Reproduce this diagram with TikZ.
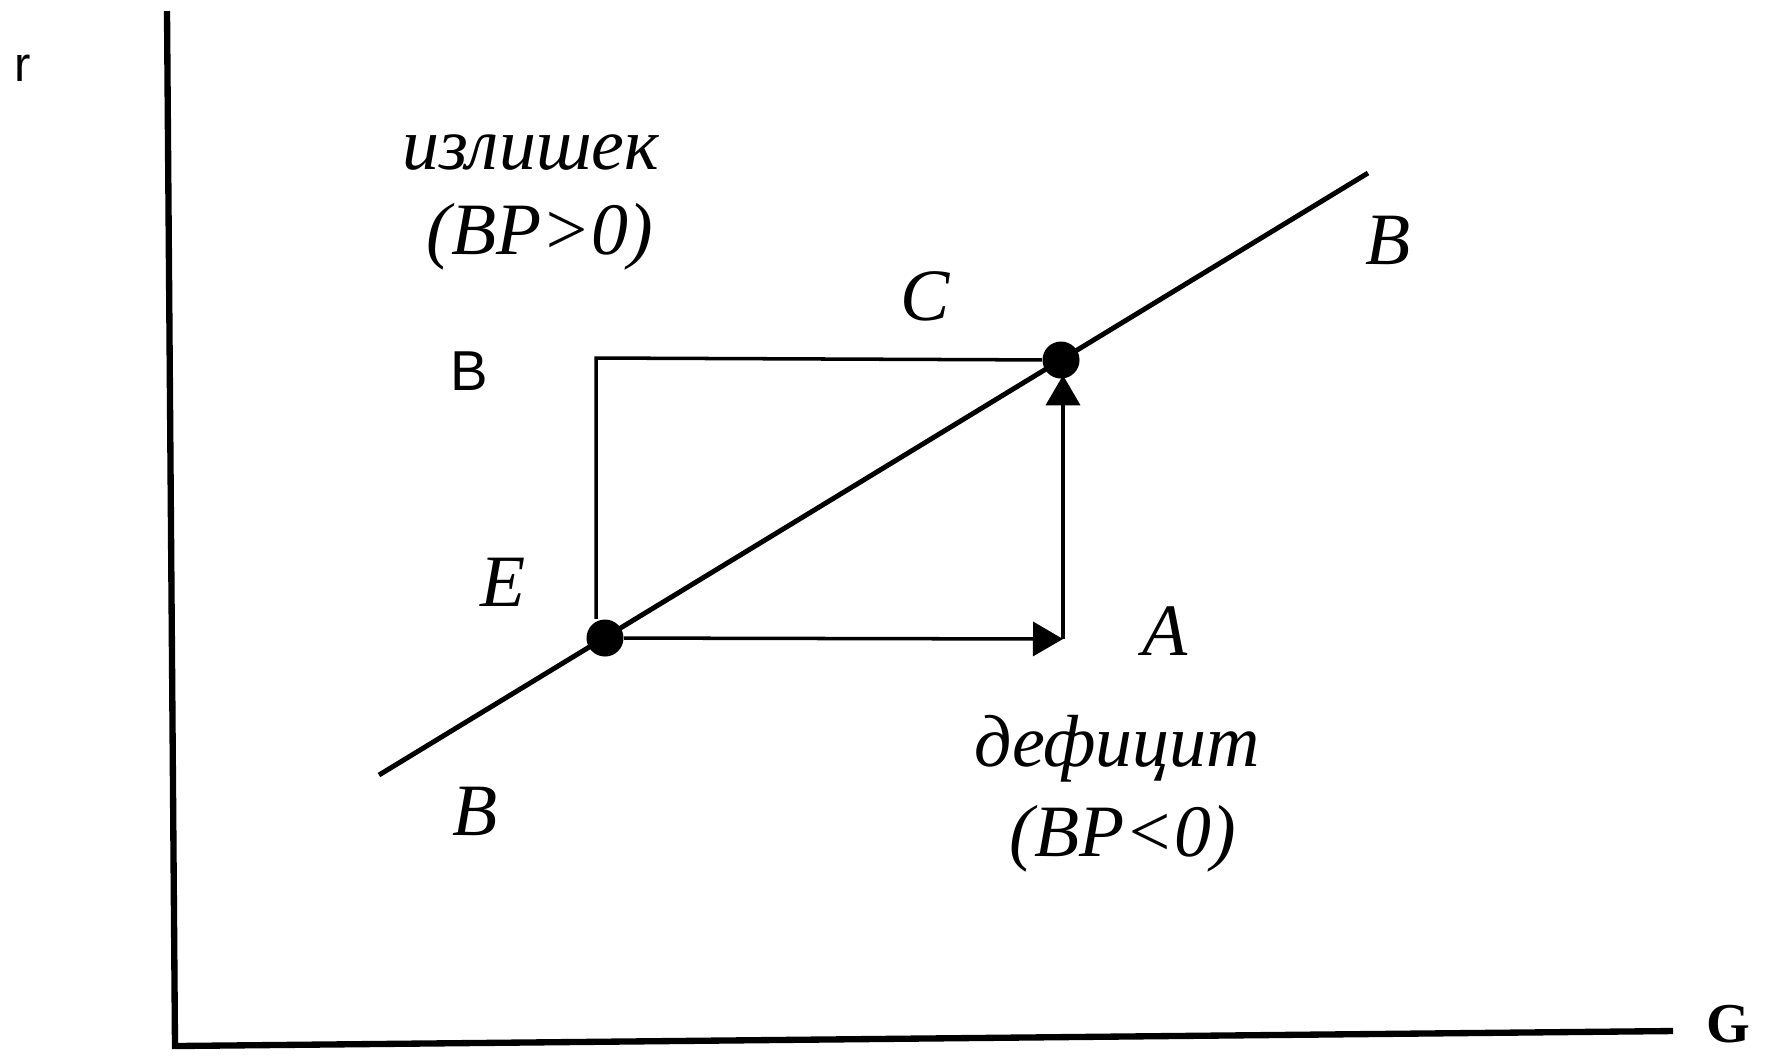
\documentclass[tikz,border=0pt]{standalone}
\usepackage{fontspec}
\setmainfont{Liberation Serif}
\setsansfont{Liberation Sans}
\usetikzlibrary{arrows.meta}

\begin{document}
\begin{tikzpicture}[x=0.01cm, y=-0.01cm,
        every node/.style={inner sep=0pt},
        axis/.style={line width=1.8pt},
        curve/.style={line width=1.4pt},
        thin line/.style={line width=1pt},
        move/.style={line width=1pt, -{Triangle[length=0.3cm, width=0.34cm]}},
        dot/.style={circle, fill=black, minimum size=0.37cm},
        lbl/.style={font=\fontsize{21}{24}\selectfont\itshape},
        axlbl/.style={font=\fontsize{14}{16}\selectfont\sffamily}
    ]
        \useasboundingbox (0,0) rectangle (1773,1056);

        % axes
        \coordinate (origin) at (175,1046);
        \coordinate (ytop)   at (167,11);
        \coordinate (xend)   at (1673,1031);
        \draw[axis] (ytop) -- (origin) -- (xend);
        \node[axlbl] (r) at (23,68) {r};
        \node[font=\fontsize{16}{18}\selectfont\bfseries] (G) at (1728,1024) {G};

        % BB line
        \coordinate (bl) at (379,775);
        \coordinate (br) at (1368,173);
        \draw[curve] (bl) -- (br);

        % points
        \node[dot] (E) at (605,638) {};
        \node[dot] (C) at (1061,360) {};
        \coordinate (A)  at (1063,639);
        \coordinate (tl) at (596,358);

        \draw[thin line] (C) -- (tl) -- (tl |- E.north);
        \draw[move] (E) -- (A);
        \draw[move] (A) -- ([yshift=0.04cm]C.south -| A);

        % labels
        \node[lbl] (surplus) at (531,153) {излишек};
        \node[lbl] (bpplus)  at (540,237) {(BP>0)};
        \node[lbl] (Clbl)    at (925,296) {C};
        \node[font=\fontsize{16}{18}\selectfont\sffamily] (Bl) at (469,371) {B};
        \node[lbl] (Btop)    at (1388,240) {B};
        \node[lbl] (Elbl)    at (503,582) {E};
        \node[lbl] (Albl)    at (1165,631) {A};
        \node[lbl] (deficit) at (1117,749) {дефицит};
        \node[lbl] (bpminus) at (1123,839) {(BP<0)};
        \node[lbl] (Bbot)    at (475,811) {B};
    \end{tikzpicture}
\end{document}
